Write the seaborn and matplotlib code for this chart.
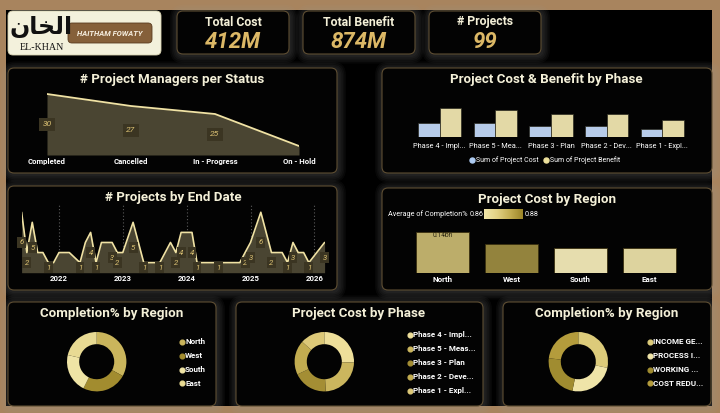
import numpy as np
import pandas as pd
import matplotlib
matplotlib.use("Agg")
import matplotlib.pyplot as plt
import matplotlib.dates as mdates
from matplotlib.patches import FancyBboxPatch
from matplotlib.colors import LinearSegmentedColormap
import seaborn as sns

# =========================================================
# DATA
# =========================================================
kpi_labels = ["Total Cost", "Total Benefit", "# Projects"]
kpi_values = ["412M", "874M", "99"]

status = ["Completed", "Cancelled", "In - Progress", "On - Hold"]
status_managers = [30, 27, 25, 17]

phase_ticks = ["Phase 4 - Impl...", "Phase 5 - Mea...", "Phase 3 - Plan", "Phase 2 - Dev...", "Phase 1 - Expl..."]
phase_legend = ["Phase 4 - Impl...", "Phase 5 - Meas...", "Phase 3 - Plan", "Phase 2 - Deve...", "Phase 1 - Expl..."]
phase_cost = [105, 98, 77, 77, 55]          # millions
phase_benefit = [213, 199, 170, 170, 122]   # millions

end_months = ["2021-06", "2021-07", "2021-08", "2021-09", "2021-10", "2021-11", "2021-12",
              "2022-01", "2022-03", "2022-05", "2022-06", "2022-07", "2022-08", "2022-09", "2022-11", "2022-12",
              "2023-01", "2023-03", "2023-05", "2023-08", "2023-10", "2023-11", "2023-12",
              "2024-02", "2024-03", "2024-07", "2024-11", "2024-12",
              "2025-01", "2025-03", "2025-05", "2025-07", "2025-08", "2025-09", "2025-10", "2025-11", "2025-12",
              "2026-03"]
end_counts = [6, 2, 5, 2, 2, 1, 1,
              2, 2, 1, 3, 4, 1, 3, 3, 2,
              2, 5, 1, 1, 3, 2, 4,
              4, 1, 1, 1, 2,
              3, 6, 2, 2, 1, 3, 2, 2, 1,
              3]
end_labelled = ["2021-06", "2021-07", "2021-08", "2021-11", "2022-05", "2022-07", "2022-08", "2022-11",
                "2022-12", "2023-03", "2023-05", "2023-08", "2023-11", "2023-12", "2024-02", "2024-03",
                "2024-07", "2024-12", "2025-01", "2025-03", "2025-05", "2025-08", "2025-09", "2025-12", "2026-03"]
year_ticks = [2022, 2023, 2024, 2025, 2026]

regions = ["North", "West", "South", "East"]
region_cost = [141, 99, 87, 85]                 # millions
region_completion = [0.872, 0.879, 0.861, 0.864]
region_completion_sum = [28.7, 21.2, 18.5, 18.6]

types = ["INCOME GE...", "PROCESS I...", "WORKING ...", "COST REDU..."]
type_completion = [24.5, 21.5, 20.5, 20.0]

# =========================================================
# STYLE
# =========================================================
sns.set_theme(style="white")
plt.rcParams["font.family"] = ["Roboto", "DejaVu Sans"]

W, H = 720, 413
FRAME = "#a8845e"
TITLE = "#f4f0d8"
GOLD = "#dcb866"
LINE = "#f0e2a4"
AREA = "#4a4532"
LBL_BG = "#3b3522"
LBL_FG = "#dcc274"

comp_cmap = LinearSegmentedColormap.from_list("comp", ["#f1e7aa", "#e2d184", "#c4ae52", "#9c8629"])
region_colors = [comp_cmap((v - 0.86) / 0.02) for v in region_completion]
phase_colors = ["#eedf9a", "#cbb65e", "#a48e34", "#c2ac50", "#dcc878"]
type_colors = ["#dccb7a", "#efe4a8", "#a08c30", "#b49c3c"]

fig = plt.figure(figsize=(7.2, 4.13), dpi=100, facecolor=FRAME)


def rect(x0, y0, x1, y1):
    return [x0 / W, 1 - y1 / H, (x1 - x0) / W, (y1 - y0) / H]


bg = fig.add_axes([0, 0, 1, 1])
bg.axis("off")
bg.add_patch(FancyBboxPatch((6, 10), 706, 396, boxstyle="square,pad=0", fc="#000000", ec="none", zorder=0))


def panel(x0, y0, x1, y1, fc="#030303", ec="#5e4e32", r=6):
    for i in range(5):
        s = 1.6 * (i + 1)
        bg.add_patch(FancyBboxPatch((x0 - s + 1, y0 - s + 1.5), x1 - x0 + 2 * s, y1 - y0 + 2 * s,
                                    boxstyle=f"round,pad=0,rounding_size={r + s}",
                                    fc="#9a9a9a", ec="none", alpha=0.05, zorder=1))
    bg.add_patch(FancyBboxPatch((x0, y0), x1 - x0, y1 - y0, boxstyle=f"round,pad=0,rounding_size={r}",
                                fc=fc, ec=ec, lw=0.8, zorder=2))


def title(x, y, s):
    bg.text(x, y, s, ha="center", va="center", fontsize=9.6, fontweight="bold", color=TITLE, zorder=5)


# =========================================================
# HEADER: LOGO + KPI CARDS
# =========================================================
bg.add_patch(FancyBboxPatch((8, 11), 153, 44, boxstyle="round,pad=0,rounding_size=5",
                            fc="#f3f1dc", ec="#d8d2b0", lw=0.6, zorder=2))
bg.text(41, 27, "\uFEE5\uFE8E\uFEA8\uFEDF\uFE8D", ha="center", va="center", fontsize=17,
        family=["DejaVu Sans"], fontweight="bold", color="#111111", zorder=5)
bg.text(42, 47.5, "EL-KHAN", ha="center", va="center", fontsize=7.2, family=["Liberation Serif", "DejaVu Serif"],
        color="#111111", zorder=5)
bg.add_patch(FancyBboxPatch((68, 23), 84, 20, boxstyle="round,pad=0,rounding_size=4",
                            fc="#85603a", ec="#5a3c20", lw=0.6, zorder=3))
bg.text(110, 33, "HAITHAM FOWATY", ha="center", va="center", fontsize=5.5, fontweight="bold",
        style="italic", color="#f6efe0", zorder=5)

cards = [(177, 289), (303, 415), (429, 541)]
for (x0, x1), lab, val in zip(cards, kpi_labels, kpi_values):
    panel(x0, 11, x1, 54, r=6)
    cx = (x0 + x1) / 2
    bg.text(cx, 22, lab, ha="center", va="center", fontsize=8.8, fontweight="bold", color=TITLE, zorder=5)
    bg.text(cx, 41.5, val, ha="center", va="center", fontsize=16, fontweight="bold", style="italic",
            color=GOLD, zorder=5)

# =========================================================
# PANELS
# =========================================================
panel(8, 68, 337, 173)
panel(382, 68, 712, 173)
panel(8, 186, 337, 290)
panel(382, 188, 712, 290)
panel(8, 302, 216, 406)
panel(236, 302, 483, 406)
panel(503, 302, 711, 406)

title(172, 80, "# Project Managers per Status")
title(546, 80, "Project Cost & Benefit by Phase")
title(173, 198, "# Projects by End Date")
title(547, 199, "Project Cost by Region")
title(112, 313, "Completion% by Region")
title(359, 313, "Project Cost by Phase")
title(607, 313, "Completion% by Region")

# =========================================================
# 1. PROJECT MANAGERS PER STATUS (AREA)
# =========================================================
ax1 = fig.add_axes(rect(47, 90, 299, 155))
xs = np.arange(len(status))
base1 = 14.75
sns.lineplot(x=xs, y=status_managers, ax=ax1, color=LINE, lw=1.3, zorder=3)
ax1.fill_between(xs, status_managers, base1, color=AREA, lw=0, zorder=2)
for i, v in enumerate(status_managers[:3]):
    ax1.text(i, (v + base1) / 2, str(v), ha="center", va="center", fontsize=6, style="italic",
             color=LBL_FG, bbox=dict(boxstyle="square,pad=0.45", fc=LBL_BG, ec="none"), zorder=4)
ax1.set_xlim(0, 3)
ax1.set_ylim(base1, 31)
ax1.set_xticks(xs)
ax1.set_xticklabels(status)
ax1.set_yticks([])
ax1.tick_params(axis="x", length=0, pad=2.5, labelsize=5.6, colors="white")
for lab in ax1.get_xticklabels():
    lab.set_fontweight("bold")
sns.despine(ax=ax1, left=True, bottom=True)
ax1.set_facecolor("none")
ax1.set_xlabel("")

# =========================================================
# 2. COST & BENEFIT BY PHASE (GROUPED BARS)
# =========================================================
ax2 = fig.add_axes(rect(412, 100, 690, 137))
df2 = pd.DataFrame({
    "Phase": phase_ticks * 2,
    "Value": phase_cost + phase_benefit,
    "Series": ["Sum of Project Cost"] * 5 + ["Sum of Project Benefit"] * 5,
})
sns.barplot(data=df2, x="Phase", y="Value", hue="Series", palette=["#aecbf2", "#ede09c"],
            width=0.78, edgecolor="#2a2a20", linewidth=0.5, legend=False, ax=ax2)
ax2.set_ylim(0, 268)
ax2.set_yticks([])
ax2.set_xlabel("")
ax2.set_ylabel("")
ax2.tick_params(axis="x", length=0, pad=4.5, labelsize=5.3, colors="white")
sns.despine(ax=ax2, left=True, bottom=True)
ax2.set_facecolor("none")

leg_items = [(472, "#aecbf2", "Sum of Project Cost"), (546, "#ede09c", "Sum of Project Benefit")]
for x, c, s in leg_items:
    bg.plot(x, 160, "o", ms=3.6, color=c, zorder=5)
    bg.text(x + 3.5, 160, s, ha="left", va="center", fontsize=5.0, color="white", zorder=5)

# =========================================================
# 3. PROJECTS BY END DATE (AREA OVER TIME)
# =========================================================
ax3 = fig.add_axes(rect(21.6, 205, 324.6, 272.7))
dates = pd.to_datetime(end_months)
dnum = mdates.date2num(dates)
ax3.grid(axis="x", ls=(0, (1, 2)), color="#5a5a5a", lw=0.8, zorder=0)
sns.lineplot(x=dnum, y=end_counts, ax=ax3, color=LINE, lw=1.2, zorder=3)
ax3.fill_between(dnum, end_counts, 0, color=AREA, lw=0, zorder=2)
lab_set = set(end_labelled)
for m, d, v in zip(end_months, dnum, end_counts):
    if m in lab_set:
        ax3.text(d, v / 2, str(v), ha="center", va="center", fontsize=5.6, style="italic",
                 color=LBL_FG, bbox=dict(boxstyle="square,pad=0.3", fc=LBL_BG, ec="none"), zorder=4)
ax3.set_xlim(mdates.date2num(pd.Timestamp("2021-06-01")), mdates.date2num(pd.Timestamp("2026-03-01")))
ax3.set_ylim(0, 6.72)
ax3.set_xticks([mdates.date2num(pd.Timestamp(f"{y}-01-01")) for y in year_ticks])
ax3.set_xticklabels([str(y) for y in year_ticks])
ax3.set_yticks([])
ax3.tick_params(axis="x", length=0, pad=2, labelsize=5.6, colors="white")
for lab in ax3.get_xticklabels():
    lab.set_fontweight("bold")
sns.despine(ax=ax3, left=True, bottom=True)
ax3.set_facecolor("none")

# =========================================================
# 4. PROJECT COST BY REGION (BARS COLOURED BY COMPLETION)
# =========================================================
ax4 = fig.add_axes(rect(408, 225, 684, 273))
sns.barplot(x=regions, y=region_cost, hue=regions, palette=region_colors, width=0.77,
            edgecolor="#3a3010", linewidth=0.6, legend=False, ax=ax4)
ax4.text(0, region_cost[0], f"{region_cost[0] / 1000:.2f}bn", ha="center", va="top", fontsize=4.8,
         color="#2a2410", zorder=5)
ax4.set_ylim(0, 163.8)
ax4.set_yticks([])
ax4.tick_params(axis="x", length=0, pad=2, labelsize=5.8, colors="white")
for lab in ax4.get_xticklabels():
    lab.set_fontweight("bold")
sns.despine(ax=ax4, left=True, bottom=True)
ax4.set_facecolor("none")

bg.text(388, 214, "Average of Completion%", ha="left", va="center", fontsize=5.2, color="white", zorder=5)
bg.text(470, 214, "0.86", ha="left", va="center", fontsize=5.2, color="white", zorder=5)
bg.text(525, 214, "0.88", ha="left", va="center", fontsize=5.2, color="white", zorder=5)
grad = np.linspace(0, 1, 64).reshape(1, -1)
bg.imshow(grad, cmap=comp_cmap, extent=[484, 523, 219, 209.5], aspect="auto", zorder=5)

# =========================================================
# 5-7. DONUTS
# =========================================================
def donut(cx, cy, values, colors, labels, lx, ly0, step):
    ax = fig.add_axes(rect(cx - 31, cy - 31, cx + 31, cy + 31))
    ax.pie(values, colors=colors, startangle=90, counterclock=False, radius=1,
           wedgeprops=dict(width=0.41, edgecolor="none"))
    ax.set_xlim(-31 / 29.7, 31 / 29.7)
    ax.set_ylim(-31 / 29.7, 31 / 29.7)
    ax.axis("off")
    for i, (lab, c) in enumerate(zip(labels, colors)):
        y = ly0 + i * step
        bg.plot(lx, y, "o", ms=3.4, color=c, zorder=5)
        bg.text(lx + 3, y, lab, ha="left", va="center", fontsize=5.8, fontweight="bold",
                color="white", zorder=5)


donut(96.7, 361.7, region_completion_sum, region_colors, regions, 182, 341.7, 13.9)
donut(324.3, 361.7, phase_cost, phase_colors, phase_legend, 410, 335, 13.9)
donut(578.3, 361.7, type_completion, type_colors, types, 650, 341.7, 13.9)

bg.set_xlim(0, W)
bg.set_ylim(H, 0)

fig.savefig("out.png", dpi=100, facecolor=FRAME)
